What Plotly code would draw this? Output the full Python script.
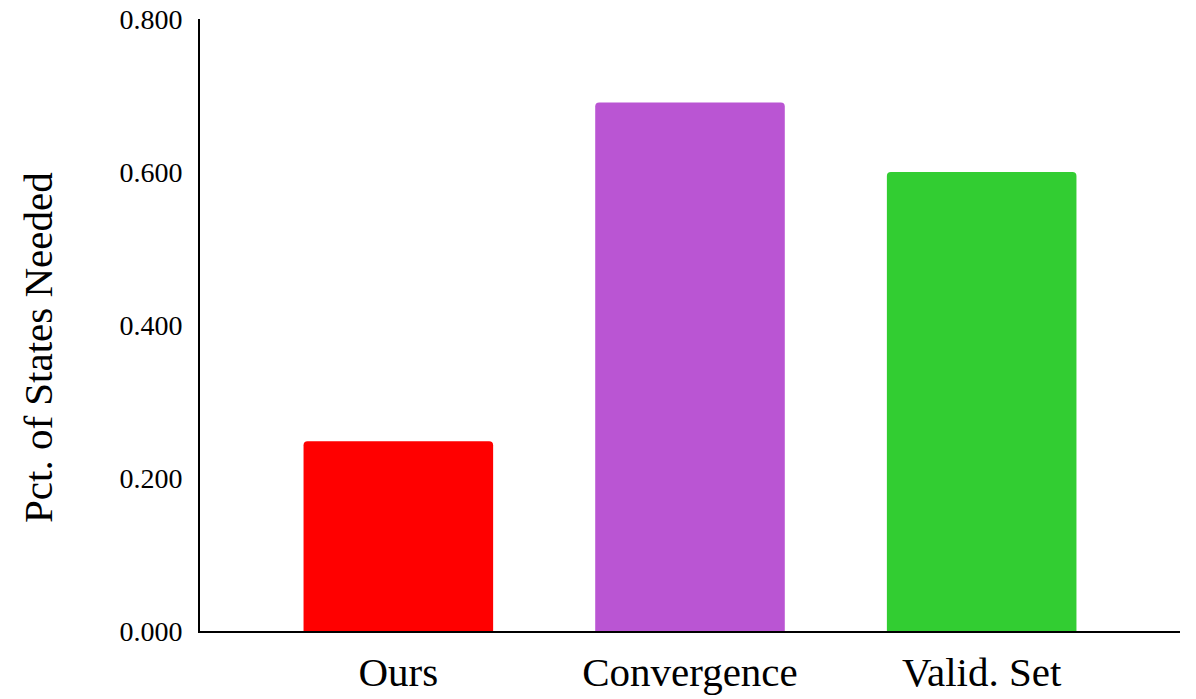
import plotly.graph_objects as go

# Share of states needed per method
methods = ["Ours", "Convergence", "Valid. Set"]
pct_states = [0.248, 0.691, 0.600]
bar_colors = ["#FF0000", "#BA55D3", "#32CD32"]

y_ticks = [0.0, 0.2, 0.4, 0.6, 0.8]
y_tick_text = ["0.000", "0.200", "0.400", "0.600", "0.800"]

fig = go.Figure(
    go.Bar(
        x=methods,
        y=pct_states,
        marker=dict(color=bar_colors, line=dict(width=0), cornerradius=4),
        width=0.65,
    )
)

serif = "Liberation Serif, Times New Roman, serif"

fig.update_layout(
    width=1196,
    height=699,
    margin=dict(l=200, r=16, t=19, b=68),
    paper_bgcolor="white",
    plot_bgcolor="white",
    showlegend=False,
    font=dict(family=serif, color="black"),
    xaxis=dict(
        range=[-0.68, 2.68],
        showline=True,
        linecolor="black",
        linewidth=2,
        showgrid=False,
        ticks="",
        tickfont=dict(size=41, family=serif, color="black"),
        ticklabelstandoff=4,
        automargin=False,
    ),
    yaxis=dict(
        range=[0, 0.8],
        tickvals=y_ticks,
        ticktext=y_tick_text,
        showline=True,
        linecolor="black",
        linewidth=2,
        showgrid=False,
        zeroline=False,
        ticks="",
        tickfont=dict(size=28, family=serif, color="black"),
        ticklabelstandoff=10,
        automargin=False,
    ),
)

# Y-axis title, set slightly below the axis midpoint
fig.add_annotation(
    text="Pct. of States Needed",
    xref="paper",
    yref="paper",
    x=0,
    y=0.4624,
    xshift=-162,
    xanchor="center",
    yanchor="middle",
    textangle=-90,
    showarrow=False,
    font=dict(size=41, family=serif, color="black"),
)

fig.write_html("out.html")
